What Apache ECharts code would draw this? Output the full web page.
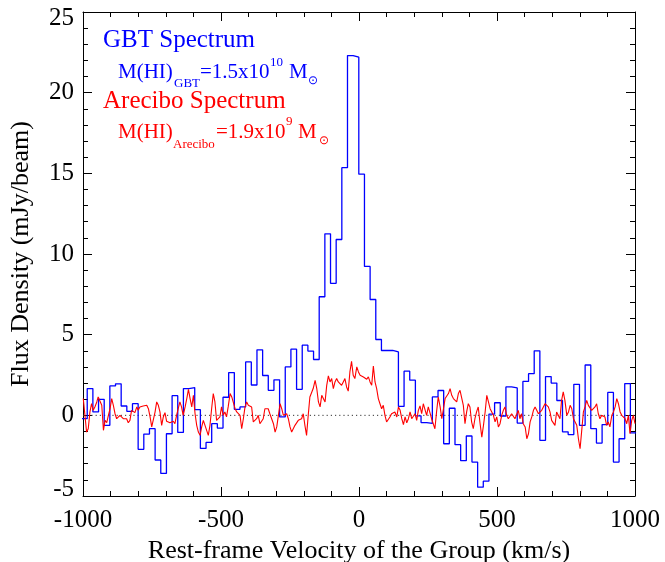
<!DOCTYPE html>
<html><head><meta charset="utf-8">
<script src="https://cdn.jsdelivr.net/npm/echarts/dist/echarts.min.js"></script>
<style>html,body{margin:0;padding:0;background:#fff}#c{width:665px;height:562px}</style>
</head><body><div id="c"></div>
<script>
// GBT spectrum: channel left edges (km/s) and flux per channel (mJy/beam)
const gbtEdges = [-1005.2,-984.7,-964.2,-943.7,-923.2,-902.7,-882.2,-861.7,-841.2,-820.7,-800.2,-779.7,-759.2,-738.7,-718.2,-697.7,-677.2,-656.7,-636.2,-615.7,-595.2,-574.7,-554.2,-533.7,-513.2,-492.7,-472.2,-451.7,-431.2,-410.7,-390.2,-369.7,-349.2,-328.7,-308.2,-287.7,-267.2,-246.7,-226.2,-205.7,-185.2,-164.7,-144.2,-123.7,-103.2,-82.7,-62.2,-41.7,-21.2,-0.7,19.8,40.3,60.8,81.3,101.8,122.3,142.8,163.3,183.8,204.3,224.8,245.3,265.8,286.3,306.8,327.3,347.8,368.3,388.8,409.3,429.8,450.3,470.8,491.3,511.8,532.3,552.8,573.3,593.8,614.3,634.8,655.3,675.8,696.3,716.8,737.3,757.8,778.3,798.8,819.3,839.8,860.3,880.8,901.3,921.8,942.3,962.8,983.3,1003.8];
const gbtFlux = [-0.21,1.66,0.21,0.99,-0.62,1.82,1.95,0.58,0.25,0.72,-2.11,-1.16,-0.83,-2.77,-3.6,-1.14,1.22,-1.06,1.66,1.72,0.35,-2.05,-1.68,-0.52,-0.79,1.12,2.65,0.37,0.52,3.31,1.88,4.06,2.47,1.55,2.2,-0.1,3.0,4.1,1.61,4.35,3.98,3.46,7.35,11.25,8.18,10.9,15.35,22.3,22.2,14.95,9.23,7.18,4.7,4.02,4.03,3.93,0.55,2.74,2.18,-0.03,-0.45,-0.5,1.14,1.54,-1.76,0.44,-1.82,-2.81,-1.28,-2.9,-4.45,-4.08,0.08,0.78,-0.04,1.76,1.7,-0.48,2.1,2.58,4.0,-1.55,2.4,2.0,0.92,-1.02,-1.19,1.92,-0.62,3.12,-0.83,-1.72,-0.57,1.42,-2.9,-1.45,1.97,-1.09];

// Arecibo spectrum
const areciboVelocity = [-999,-987,-981,-975,-969,-963,-957,-950,-945,-938,-932,-926,-920,-914,-908,-902,-896,-890,-884,-878,-872,-866,-860,-854,-848,-842,-836,-830,-824,-818,-812,-805,-800,-794,-787,-782,-775,-769,-763,-757,-751,-745,-739,-733,-727,-721,-715,-709,-703,-697,-691,-685,-679,-673,-667,
-661,-655,-649,-643,-637,-630,-624,-618,-612,-606,-600,-594,-588,-582,-576,-570,-564,-558,-552,-546,-540,-534,-528,-522,-516,-510,-504,-498,-492,-486,-480,-474,-467,-461,-455,-449,-443,-437,-431,-425,-419,-413,-407,-401,-395,-389,-383,-377,-371,-365,-359,-353,-347,-341,
-335,-329,-323,-316,-310,-304,-298,-292,-286,-280,-274,-268,-262,-256,-250,-244,-238,-232,-226,-220,-214,-208,-202,-196,-190,-184,-178,-172,-166,-159,-153,-147,-141,-135,-129,-123,-117,-111,-105,-99,-93,-87,-81,-75,-69,-63,-57,-51,-45,-39,-33,-27,-21,-15,
-8,-2,4,10,16,22,28,34,40,46,52,58,64,70,76,82,88,94,100,106,112,118,124,130,137,143,149,155,161,167,173,179,185,191,197,203,209,215,221,227,233,239,245,251,257,263,269,275,281,287,294,300,306,312,
318,324,330,336,342,348,354,360,366,372,378,384,390,396,402,408,414,420,426,432,438,445,451,457,463,469,475,481,487,493,499,505,511,517,523,529,535,541,547,553,559,565,571,577,583,589,595,602,608,614,620,626,632,638,
644,650,656,662,668,674,680,686,692,698,704,710,716,722,728,734,740,746,753,759,765,771,777,783,789,795,801,807,813,819,825,831,837,843,849,855,861,867,873,879,885,891,897,903,909,916,922,928,934,940,946,952,958,964,970,976,982,988,994,1000];
const areciboFlux = [1.04,-1.04,-0.83,0.2,0.72,0.31,0.52,0.83,1.14,1.18,0.62,-0.93,-0.31,-0.46,0,0.41,1.04,0.62,0.1,-0.21,-0.31,0,-0.1,-0.21,-0.31,-0.21,-0.46,-0.31,0.31,0.41,0.17,0.52,0.31,0.52,0.41,0.58,0.46,0.62,0.41,-0.1,-0.72,-0.83,0.2,0.83,0.62,0.2,-0.62,-0.1,0.17,-0.37,-0.31,-0.46,-0.58,-0.37,-0.52,
0,0.41,0.83,0.52,0,0.52,1.04,1.61,1.04,0.52,1.24,0.1,-0.62,-1.04,-1.24,-0.72,-0.31,-0.62,-0.93,-1.24,-0.62,0.41,1.35,0.83,-0.31,-0.41,-0.1,0.52,0,0.21,-0.1,0.52,1.35,1.14,1.24,0.41,0.21,0.31,0,-0.83,-0.21,0.52,0.83,0.62,0.72,0.52,-0.41,-0.52,-0.21,0,-0.52,-0.62,-0.21,0.41,
0.31,0.41,0.1,0,-0.52,-1.04,-0.72,0,0.72,0.41,0,-0.1,0.1,-0.21,-0.72,-1.04,-0.93,-0.62,-0.52,-0.31,-0.41,-0.21,0.1,-0.62,-1.24,0,1.14,1.04,1.66,2.17,1.66,0.83,0.52,1.24,1.35,0.83,1.86,2.44,2.07,2.28,1.66,2.07,2.28,2.07,2.17,1.86,2.07,2.28,1.76,1.5,2.69,3.35,2.48,2.28,
3.0,2.69,2.48,2.53,2.38,2.44,2.24,2.38,2.07,1.86,3.06,2.07,1.66,1.04,0.72,0.41,0.62,0,-0.41,-0.52,-0.1,0.1,0,0.21,-0.1,0.52,0.31,-0.21,-0.58,-0.1,-0.46,-0.21,0.21,-0.21,-0.1,0.1,-0.31,0.31,0.58,0.1,0.72,0.83,0,0.52,0.17,-0.21,-0.52,-0.83,0.21,1.14,0.52,-0.21,0.41,1.04,
1.04,1.35,1.66,1.24,1.04,1.14,0.83,1.35,1.55,1.66,0.62,-0.52,0.21,0.72,0.52,-0.41,-0.83,-0.21,0.21,0.52,-0.41,-1.35,-0.62,0.21,1.24,0.83,0.41,0.52,0,-0.41,-0.1,-0.72,-0.52,0,0.31,0.52,0,-0.21,-0.1,0.1,0.21,-0.21,-0.1,0.31,-0.21,0.1,-0.52,-0.72,-1.45,-1.14,-0.41,-0.1,0.31,0.52,
0.31,0.1,0,0.31,0.21,0.72,0.62,0.52,0.21,-0.31,-0.41,-0.62,0.21,0.1,-0.21,0.93,1.45,0.93,0,0.21,0.62,0.41,-0.21,-0.31,-0.62,-1.45,-2.07,-0.93,0.21,0.52,0.93,0.62,0.72,0.31,0.21,0.52,0.72,0.1,-0.21,0,0.1,-0.1,-0.62,-0.41,-0.72,0,0.21,0.52,1.04,0.72,0.21,0,0.1,-0.21,-0.52,0,-1.14,-0.31,0,-0.52];

const xRange = [-1000, 1000], xStep = 500;
const yRange = [-5, 25], yStep = 5;
const zeroLine = [[-1000, 0], [1000, 0]];

const FONT = '"Liberation Serif", "Times New Roman", serif';
const gbtData = gbtEdges.map((e, i) => [e, gbtFlux[Math.min(i, gbtFlux.length - 1)]]);
const areData = areciboVelocity.map((v, i) => [v, areciboFlux[i]]);

function axisCommon(extra) {
  return Object.assign({
    type: 'value',
    axisLine: { show: true, onZero: false, lineStyle: { color: '#000', width: 1 } },
    axisTick: { show: true, inside: true, length: 9, lineStyle: { color: '#000', width: 1 } },
    minorTick: { show: true, splitNumber: 5, length: 5, lineStyle: { color: '#000', width: 1 } },
    splitLine: { show: false },
    minorSplitLine: { show: false }
  }, extra);
}
const lbl = { fontFamily: FONT, fontSize: 25, color: '#000' };

const chart = echarts.init(document.getElementById('c'), null, { renderer: 'canvas' });
const blue = '#0000ff', red = '#ff0000';
function txt(x, y, s, size, color) {
  return { type: 'text', x: x, y: y, silent: true,
    style: { text: s, font: size + 'px ' + FONT, fill: color, align: 'left', verticalAlign: 'middle' } };
}
chart.setOption({
  animation: false,
  backgroundColor: '#fff',
  grid: { left: 83, right: 30, top: 12, bottom: 66, containLabel: false, outerBoundsMode: 'none' },
  xAxis: [
    axisCommon({ min: xRange[0], max: xRange[1], interval: xStep, position: 'bottom',
      axisLabel: Object.assign({ show: true, margin: 12, formatter: v => String(v) }, lbl),
      name: 'Rest-frame Velocity of the Group (km/s)', nameLocation: 'middle', nameGap: 39,
      nameTextStyle: { fontFamily: FONT, fontSize: 26, color: '#000' } }),
    axisCommon({ min: xRange[0], max: xRange[1], interval: xStep, position: 'top',
      axisLabel: { show: false } })
  ],
  yAxis: [
    axisCommon({ min: yRange[0], max: yRange[1], interval: yStep, position: 'left',
      axisLabel: Object.assign({ show: true, margin: 9,
        formatter: v => v === yRange[1] ? '{hi|' + v + '}' : (v === yRange[0] ? '{lo|' + v + '}' : String(v)),
        rich: {
          hi: Object.assign({ padding: [12, 0, 0, 0] }, lbl),
          lo: Object.assign({ padding: [0, 0, 14, 0] }, lbl)
        } }, lbl),
      name: 'Flux Density (mJy/beam)', nameLocation: 'middle', nameGap: 49, nameRotate: 90,
      nameTextStyle: { fontFamily: FONT, fontSize: 26, color: '#000' } }),
    axisCommon({ min: yRange[0], max: yRange[1], interval: yStep, position: 'right',
      axisLabel: { show: false } })
  ],
  series: [
    { type: 'line', data: zeroLine, symbol: 'none', silent: true, z: 1,
      lineStyle: { color: '#333', width: 1, type: [1.2, 3] } },
    { type: 'line', step: 'end', data: gbtData, symbol: 'none', z: 2,
      lineStyle: { color: blue, width: 1.3 } },
    { type: 'line', data: areData, symbol: 'none', z: 3,
      lineStyle: { color: red, width: 1.1 } }
  ],
  graphic: [
    txt(103, 40, 'GBT Spectrum', 25, blue),
    txt(118, 72.5, 'M(HI)', 21, blue),
    txt(174, 84, 'GBT', 13, blue),
    txt(200, 72.5, '=1.5x10', 21, blue),
    txt(270, 63, '10', 13, blue),
    txt(289, 72.5, 'M', 21, blue),
    txt(308, 81, '\u2299', 12, blue),
    txt(103, 101, 'Arecibo Spectrum', 25, red),
    txt(118, 132.5, 'M(HI)', 21, red),
    txt(173, 145, 'Arecibo', 13, red),
    txt(216, 132.5, '=1.9x10', 21, red),
    txt(286, 122, '9', 13, red),
    txt(298, 132.5, 'M', 21, red),
    txt(319, 141, '\u2299', 12, red)
  ]
});
</script></body></html>
